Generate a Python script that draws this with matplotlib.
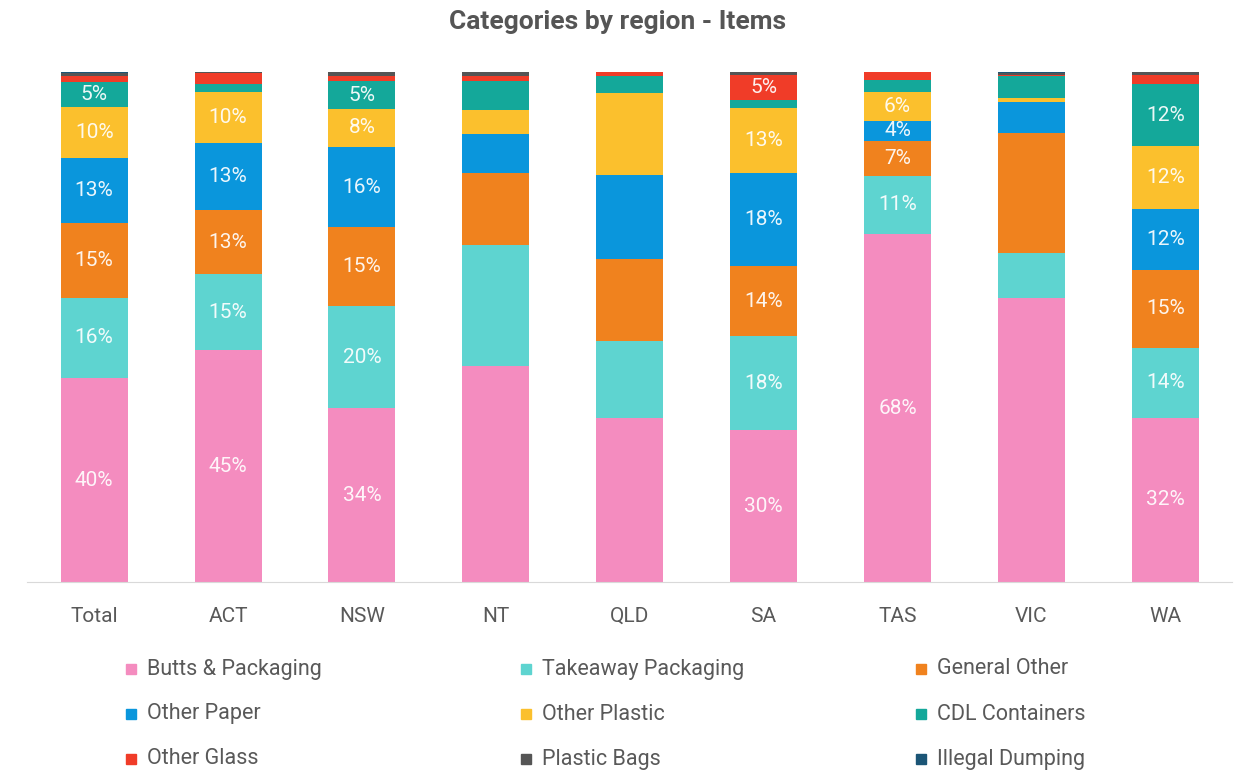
import numpy as np
import matplotlib.pyplot as plt
from matplotlib.patches import Rectangle

# Datos (porcentaje de ítems por categoría)
regions = ["Total", "ACT", "NSW", "NT", "QLD", "SA", "TAS", "VIC", "WA"]
categories = ["Butts & Packaging", "Takeaway Packaging", "General Other",
              "Other Paper", "Other Plastic", "CDL Containers",
              "Other Glass", "Plastic Bags", "Illegal Dumping"]

butts     = [40.0, 45.4, 34.1, 42.4, 32.2, 29.8, 68.2, 55.7, 32.2]
takeaway  = [15.7, 14.9, 20.0, 23.7, 15.1, 18.4, 11.4,  8.8, 13.7]
general   = [14.7, 12.6, 15.4, 14.1, 16.1, 13.7,  6.9, 23.5, 15.3]
paper     = [12.7, 13.1, 15.7,  7.6, 16.3, 18.2,  3.9,  6.1, 12.0]
plastic   = [10.0, 10.0,  7.6,  4.7, 16.2, 12.9,  5.6,  0.7, 12.2]
cdl       = [ 4.9,  1.6,  5.3,  5.6,  3.2,  1.5,  2.4,  4.4, 12.2]
glass     = [ 1.2,  2.1,  1.1,  1.0,  0.9,  4.9,  1.6,  0.2,  1.8]
bags      = [ 0.5,  0.2,  0.8,  0.9,  0.0,  0.6,  0.0,  0.4,  0.5]
dumping   = [ 0.3,  0.1,  0.0,  0.0,  0.0,  0.0,  0.0,  0.2,  0.1]

# Regiones que muestran etiquetas en el original
labelled = ["Total", "ACT", "NSW", "SA", "TAS", "WA"]

colors = ["#F48CBF", "#5ED4D0", "#F0821E", "#0A96DC", "#FBC02D",
          "#14A89A", "#F03C28", "#555555", "#1B5576"]

series = [butts, takeaway, general, paper, plastic, cdl, glass, bags, dumping]

fig = plt.figure(figsize=(12.36, 7.72), dpi=100)
ax = fig.add_axes([0.022, 0.246, 0.975, 0.661])

x = np.arange(len(regions))
bottom = np.zeros(len(regions))
for vals, col in zip(series, colors):
    vals = np.array(vals)
    ax.bar(x, vals, 0.5, bottom=bottom, color=col, linewidth=0)
    for i, r in enumerate(regions):
        if r in labelled and vals[i] >= 3.5:
            ax.text(x[i], bottom[i] + vals[i] / 2, f"{round(vals[i]):.0f}%",
                    ha="center", va="center", color="white",
                    fontsize=15, family="Roboto", alpha=0.92)
    bottom += vals

ax.set_xlim(-0.5, len(regions) - 0.5)
ax.set_ylim(0, 100)
ax.set_yticks([])
for s in ["top", "right", "left"]:
    ax.spines[s].set_visible(False)
ax.spines["bottom"].set_color("#D9D9D9")
ax.set_xticks(x)
ax.set_xticklabels(regions, fontsize=15, color="#595959", family="Roboto")
ax.tick_params(axis="x", length=0, pad=18)

fig.text(0.5, 0.972, "Categories by region - Items", ha="center", va="center",
         fontsize=19, fontweight="bold", color="#555555", family="Roboto")

# Leyenda manual, por filas
for i, (name, col) in enumerate(zip(categories, colors)):
    row, c = i // 3, i % 3
    xm = 126 + c * 395
    ym = 772 - (669 + row * 45)
    fig.patches.append(Rectangle((xm / 1236, (ym - 5) / 772), 10 / 1236, 10 / 772,
                                 transform=fig.transFigure, color=col))
    fig.text((xm + 21) / 1236, ym / 772, name, ha="left", va="center",
             fontsize=15.5, color="#595959", family="Roboto")

fig.savefig("out.png", dpi=100)
